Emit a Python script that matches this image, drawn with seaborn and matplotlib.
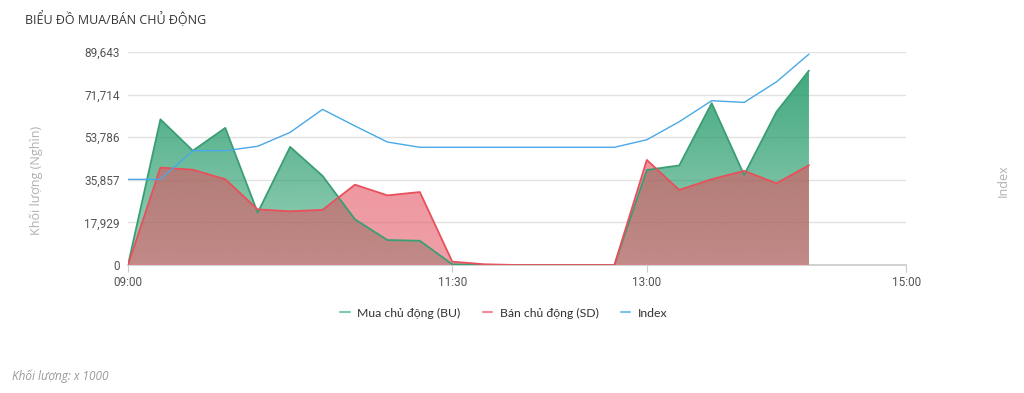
import numpy as np
import pandas as pd
import seaborn as sns
import matplotlib.pyplot as plt
import matplotlib.colors as mcolors
from matplotlib.lines import Line2D

# 15-minute snapshots of the session
times = ["09:00", "09:15", "09:30", "09:45", "10:00", "10:15", "10:30", "10:45",
         "11:00", "11:15", "11:30", "11:45", "12:00", "12:15", "12:30", "12:45",
         "13:00", "13:15", "13:30", "13:45", "14:00", "14:15"]
buy_vol = [0, 61300, 48100, 57700, 22000, 49700, 37500, 19200,
           10500, 10200, 300, 0, 0, 0, 0, 0,
           40000, 41900, 68100, 37900, 64500, 81800]
sell_vol = [0, 41000, 40100, 36100, 23400, 22600, 23200, 33800,
            29300, 30700, 1400, 300, 0, 0, 0, 0,
            44200, 31600, 36100, 39600, 34400, 42000]
index_vals = [1210.3, 1210.3, 1230.5, 1230.5, 1233.6, 1243.4, 1259.6, 1247.9,
              1236.6, 1232.9, 1232.9, 1232.9, 1232.9, 1232.9, 1232.9, 1232.9,
              1238.2, 1250.9, 1265.7, 1264.5, 1279.0, 1298.5]
y_ticks = [0, 17929, 35857, 53786, 71714, 89643]
x_ticks = ["09:00", "11:30", "13:00", "15:00"]

def to_min(t):
    h, m = t.split(":")
    return (int(h) - 9) * 60 + int(m)

def gradient_area(ax, x, y, color, a_top, a_bot, zorder):
    # area fill whose opacity fades towards the baseline
    poly = ax.fill_between(x, y, color="none", lw=0, zorder=zorder)
    rgb = mcolors.to_rgb(color)
    img = np.zeros((200, 1, 4))
    img[:, 0, :3] = rgb
    img[:, 0, 3] = np.linspace(a_top, a_bot, 200)
    top = ax.get_ylim()[1]
    im = ax.imshow(img, aspect="auto", extent=[0, 360, 0, top], origin="upper",
                   zorder=zorder, interpolation="bilinear")
    path = poly.get_paths()[0]
    im.set_clip_path(path, transform=ax.transData)

df = pd.DataFrame({"t": [to_min(t) for t in times], "buy": buy_vol,
                   "sell": sell_vol, "index": index_vals})

sns.set_theme(style="white")
plt.rcParams['font.family'] = ['Open Sans', 'DejaVu Sans']

green = "#3a9e74"
red = "#e8505b"
blue = "#4aa8e8"

fig = plt.figure(figsize=(10.24, 3.93), dpi=100)
ax = fig.add_axes([0.125, 0.3257, 0.76, 0.542])
ax.set_xlim(0, 360)
ax.set_ylim(0, y_ticks[-1])

gradient_area(ax, df["t"], df["buy"], "#229a68", 0.9, 0.45, 2)
gradient_area(ax, df["t"], df["sell"], "#e2505e", 0.65, 0.55, 3)
sns.lineplot(data=df, x="t", y="buy", ax=ax, color=green, lw=1.3, zorder=4)
sns.lineplot(data=df, x="t", y="sell", ax=ax, color=red, lw=1.3, zorder=5)

ax.set_xlim(0, 360)
ax.set_ylim(0, y_ticks[-1])
ax.set_yticks(y_ticks)
ax.set_yticklabels([f"{v:,}" for v in y_ticks], fontfamily="Roboto")
ax.set_xticks([to_min(t) for t in x_ticks])
ax.set_xticklabels(x_ticks, fontfamily="Roboto")
ax.tick_params(axis="y", length=0, labelsize=8.5, colors="#555555", pad=6)
ax.tick_params(axis="x", length=5, width=0.8, color="#cccccc", labelsize=8.5,
               labelcolor="#555555", pad=3, direction="out", bottom=True)
ax.grid(axis="y", color="#e2e2e2", lw=1)
ax.set_axisbelow(True)
for s in ["top", "right", "left"]:
    ax.spines[s].set_visible(False)
ax.spines["bottom"].set_color("#cccccc")
ax.set_xlabel("")
ax.set_ylabel("")

ax2 = ax.twinx()
sns.lineplot(data=df, x="t", y="index", ax=ax2, color=blue, lw=1.0, zorder=6)
ax2.set_ylim(1150, 1300)
ax2.set_yticks([])
for s in ax2.spines.values():
    s.set_visible(False)
ax2.set_ylabel("")
ax2.set_xlim(0, 360)

fig.text(0.035, 0.54, "Khối lượng (Nghìn)", rotation=90, color="#b0b0b0",
         fontsize=9, va="center", ha="center")
fig.text(0.98, 0.54, "Index", rotation=90, color="#b0b0b0",
         fontsize=9, va="center", ha="center")
fig.text(0.024, 0.952, "BIỂU ĐỒ MUA/BÁN CHỦ ĐỘNG", fontsize=9, color="#333333",
         va="center", ha="left")
fig.text(0.012, 0.043, "Khối lượng: x 1000", fontsize=8.5, color="#999999",
         style="italic", va="center", ha="left")

handles = [Line2D([], [], color="#7fcaa8", lw=1.5),
           Line2D([], [], color="#f08a94", lw=1.5),
           Line2D([], [], color="#7cc0ee", lw=1.5)]
fig.legend(handles, ["Mua chủ động (BU)", "Bán chủ động (SD)", "Index"],
           loc="center", bbox_to_anchor=(0.492, 0.203), ncol=3, frameon=False,
           handlelength=0.8, handletextpad=0.6, columnspacing=1.8,
           labelcolor="#333333", prop={"family": "Lato", "size": 8.8})

fig.savefig("out.png", dpi=100)
